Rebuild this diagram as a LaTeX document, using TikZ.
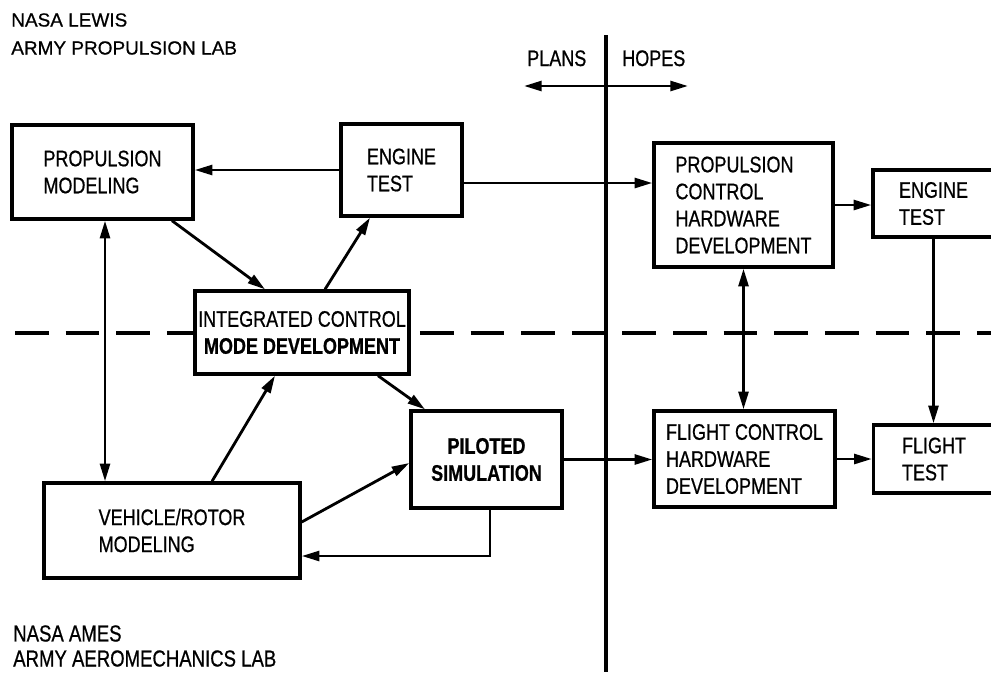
\documentclass[tikz,border=0pt]{standalone}
\usepackage{fontspec}
\setmainfont{Liberation Sans}[FakeStretch=0.8,FakeBold=0.7]
\newfontfamily\widefont{Liberation Sans}[FakeBold=0.7]
\usetikzlibrary{arrows.meta}
\newcommand\pxl{0.025cm}
\newcommand\boxfont{\fontsize{16}{19.2}\selectfont}
\tikzset{
  blk/.style={draw,line width=2.4pt,fill=white,align=left,inner sep=0pt,font=\boxfont},
  wh/.style 2 args={minimum width=#1*\pxl,minimum height=#2*\pxl},
  arr/.style={line width=2pt,-{Triangle[length=12.5pt,width=7pt]}},
  darr/.style={line width=2pt,{Triangle[length=12.5pt,width=7pt]}-{Triangle[length=12.5pt,width=7pt]}},
  lbl/.style={inner sep=0pt,align=left}
}
\begin{document}
\begin{tikzpicture}[x=0.025cm,y=-0.025cm]
  \useasboundingbox (0,0) rectangle (991,672);
  \clip (0,0) rectangle (991,672);
  \draw[line width=2.3pt,dash pattern=on 24pt off 12pt] (15,333)--(991,333);
  \draw[line width=2.3pt] (606,35)--(606,672);
  \draw[darr] (524,86)--(688,86);
  \node[lbl,anchor=base west,font=\boxfont] (plans) at (527,66) {PLANS};
  \node[lbl,anchor=base west,font=\boxfont] (hopes) at (622,66) {HOPES};
  \node[lbl,anchor=north west,font=\widefont\fontsize{13.5}{19.9}\selectfont] (lewis) at (11,13) {NASA LEWIS\\ARMY PROPULSION LAB};
  \node[lbl,anchor=north west,font=\fontsize{16.5}{17.8}\selectfont] (ames) at (13,625) {NASA AMES\\ARMY AEROMECHANICS LAB};

  \node[blk,wh={181}{94}] (pm) at (102.5,172) {PROPULSION\\MODELING};
  \node[blk,wh={121}{92}] (et1) at (401.5,170) {ENGINE\\TEST};
  \node[blk,wh={214}{83},align=center] (icm) at (302,332.5) {INTEGRATED CONTROL\\\textbf{MODE DEVELOPMENT}};
  \node[blk,wh={151}{97},align=center,font=\boxfont\bfseries] (ps) at (486.5,459.5) {PILOTED\\SIMULATION};
  \node[blk,wh={256}{95}] (vr) at (172,530.5) {VEHICLE/ROTOR\\MODELING};
  \node[blk,wh={179}{124}] (pc) at (743.5,205) {PROPULSION\\CONTROL\\HARDWARE\\DEVELOPMENT};
  \node[blk,wh={121}{67}] (et2) at (933.5,203.5) {ENGINE\\TEST};
  \node[blk,wh={181}{96}] (fc) at (744.5,459) {FLIGHT CONTROL\\HARDWARE\\DEVELOPMENT};
  \node[blk,wh={121}{68}] (ft) at (934,459) {FLIGHT\\TEST};

  \coordinate (pmb) at ([xshift=2.5*\pxl]pm.south);
  \coordinate (eto) at ([yshift=-13*\pxl]et1.east);
  \draw[arr] (et1.west)--(et1.west -| pm.east);
  \draw[arr] (eto)--(eto -| pc.west);
  \draw[arr] ([xshift=69.5*\pxl]pm.south)--([xshift=-37*\pxl]icm.north);
  \draw[arr] ([xshift=23*\pxl]icm.north)--([xshift=-31.5*\pxl]et1.south);
  \draw[darr] (pmb)--(pmb |- vr.north);
  \draw[arr] ([xshift=40*\pxl]vr.north)--([xshift=-27*\pxl]icm.south);
  \draw[arr] ([xshift=76*\pxl]icm.south)--([xshift=-61.5*\pxl]ps.north);
  \draw[arr] ([yshift=8.5*\pxl]vr.east)--([yshift=-3.5*\pxl]ps.west);
  \draw[arr] ([xshift=3.5*\pxl]ps.south) |- ([yshift=-25.5*\pxl]vr.east);
  \draw[arr] (ps.east)--(ps.east -| fc.west);
  \draw[arr] (pc.east)--(pc.east -| et2.west);
  \draw[darr] (pc.south)--(pc.south |- fc.north);
  \draw[arr] (et2.south)--(et2.south |- ft.north);
  \draw[arr] (fc.east)--(fc.east -| ft.west);
\end{tikzpicture}
\end{document}
